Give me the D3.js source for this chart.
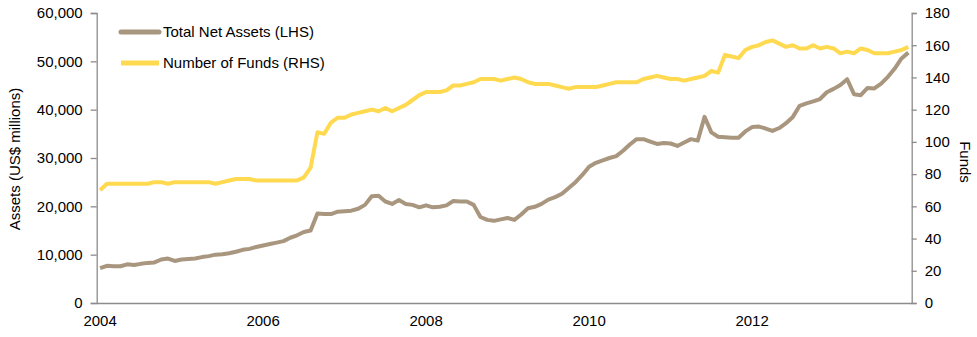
<!DOCTYPE html>
<html><head><meta charset="utf-8">
<script src="https://cdn.jsdelivr.net/npm/d3@7/dist/d3.min.js"></script>
<style>body{margin:0;background:#fff}svg{display:block}text{font-family:"Liberation Sans",Arial,sans-serif;fill:#000}</style>
</head><body><svg id="c" width="977" height="337"></svg>
<script>
const startYear = 2004, nMonths = 120;
const yearLabels = ["2004","2006","2008","2010","2012"];
const assetsTicks = [0,10000,20000,30000,40000,50000,60000];
const fundsTicks = [0,20,40,60,80,100,120,140,160,180];
const seriesNames = ["Total Net Assets (LHS)","Number of Funds (RHS)"];
const totalNetAssets = [
7200,7700,7600,7600,8000,7850,8100,8300,8400,9000,9200,8700,
9000,9100,9200,9500,9700,10000,10100,10300,10600,11000,11200,11600,
11900,12200,12500,12800,13500,14000,14700,15000,18500,18400,18400,18900,
19000,19100,19500,20300,22100,22200,21000,20500,21300,20500,20300,19800,
20200,19800,19900,20200,21100,21000,21000,20300,17800,17200,17000,17300,
17600,17200,18300,19600,19900,20500,21400,21900,22600,23800,25000,26500,
28200,29000,29500,30000,30400,31500,32800,33900,33900,33400,32900,33100,
33000,32500,33200,33900,33600,38500,35300,34400,34300,34200,34200,35500,
36400,36500,36100,35600,36200,37200,38500,40800,41300,41700,42200,43600,
44300,45100,46300,43200,43000,44500,44400,45400,46800,48500,50600,51800];
const numberOfFunds = [
70,74,74,74,74,74,74,74,75,75,74,75,
75,75,75,75,75,74,75,76,77,77,77,76,
76,76,76,76,76,76,78,84,106,105,112,115,
115,117,118,119,120,119,121,119,121,123,126,129,
131,131,131,132,135,135,136,137,139,139,139,138,
139,140,139,137,136,136,136,135,134,133,134,134,
134,134,135,136,137,137,137,137,139,140,141,140,
139,139,138,139,140,141,144,143,154,153,152,157,
159,160,162,163,161,159,160,158,158,160,158,159,
158,155,156,155,158,157,155,155,155,156,157,159];

const svg = d3.select("#c");
const L = 96.7, R = 911.7, T = 13, B = 303;
const x = d3.scaleBand().domain(d3.range(nMonths)).range([L, R]);
const xc = i => x(i) + x.bandwidth()/2;
const yL = d3.scaleLinear().domain([0,60000]).range([B,T]);
const yR = d3.scaleLinear().domain([0,180]).range([B,T]);
const axisColor = "#8c8c8c";

// left axis
const gL = svg.append("g").attr("transform",`translate(${L},0)`)
  .call(d3.axisLeft(yL).tickValues(assetsTicks).tickSize(6).tickPadding(8).tickFormat(d3.format(",")));
// right axis
const gR = svg.append("g").attr("transform",`translate(${R},0)`)
  .call(d3.axisRight(yR).tickValues(fundsTicks).tickSize(5).tickPadding(8));
[gL,gR].forEach(g=>{
  g.select(".domain").attr("stroke",axisColor).attr("stroke-width",1.3);
  g.selectAll(".tick line").attr("stroke",axisColor).attr("stroke-width",1.3);
  g.selectAll(".tick text").attr("font-size",15).attr("fill","#000").attr("font-family","Liberation Sans, Arial, sans-serif");
});
// bottom axis
const yearIdx = yearLabels.map(y => (+y - startYear) * 12);
const gB = svg.append("g").attr("transform",`translate(0,${B})`)
  .call(d3.axisBottom(x).tickValues(yearIdx).tickSize(0).tickPadding(12)
    .tickFormat(i => yearLabels[yearIdx.indexOf(i)]));
gB.select(".domain").attr("stroke",axisColor).attr("stroke-width",1.3);
gB.selectAll(".tick text").attr("font-size",15).attr("fill","#000").attr("font-family","Liberation Sans, Arial, sans-serif");

// axis titles
svg.append("text").attr("transform","translate(20,159) rotate(-90)").attr("text-anchor","middle")
  .attr("font-size",15).text("Assets (US$ millions)");
svg.append("text").attr("transform","translate(960,162) rotate(90)").attr("text-anchor","middle")
  .attr("font-size",15).text("Funds");

const colors = ["#a8967f","#ffd94f"];
const lineA = d3.line().x((d,i)=>xc(i)).y(d=>yL(d));
const lineF = d3.line().x((d,i)=>xc(i)).y(d=>yR(d));
svg.append("path").datum(numberOfFunds).attr("d",lineF).attr("fill","none")
  .attr("stroke",colors[1]).attr("stroke-width",4).attr("stroke-linejoin","round");
svg.append("path").datum(totalNetAssets).attr("d",lineA).attr("fill","none")
  .attr("stroke",colors[0]).attr("stroke-width",4).attr("stroke-linejoin","round");

// legend
seriesNames.forEach((n,k)=>{
  const yy = 32 + k*31;
  svg.append("line").attr("x1",121).attr("x2",159).attr("y1",yy).attr("y2",yy)
    .attr("stroke",colors[k]).attr("stroke-width",5).attr("stroke-linecap", k===0?"round":"butt");
  svg.append("text").attr("x",163).attr("y",yy).attr("dy","0.35em").attr("font-size",15).text(n);
});
</script></body></html>
